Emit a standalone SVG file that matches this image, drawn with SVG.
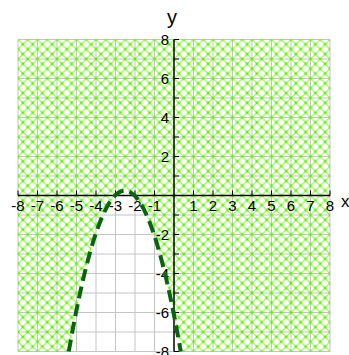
<svg xmlns="http://www.w3.org/2000/svg" width="349" height="355" viewBox="0 0 349 355">
<defs>
<pattern id="hatch" patternUnits="userSpaceOnUse" x="18" y="39.5" width="9.75" height="9.75">
<path d="M0,0 L9.75,9.75 M9.75,0 L0,9.75" stroke="#8ef545" stroke-width="1.1" fill="none"/>
<circle cx="0" cy="0" r="1.4" fill="#5cf000"/>
<circle cx="9.75" cy="0" r="1.4" fill="#5cf000"/>
<circle cx="0" cy="9.75" r="1.4" fill="#5cf000"/>
<circle cx="9.75" cy="9.75" r="1.4" fill="#5cf000"/>
<circle cx="4.875" cy="4.875" r="1.4" fill="#5cf000"/>
</pattern>
</defs>
<style>
.grid line{stroke:#c4c4c4;stroke-width:1}
.axis{stroke:#000;stroke-width:1.5}
.tick{stroke:#000;stroke-width:1}
.lbl{font-family:"Liberation Sans",Arial,sans-serif;font-size:15px;fill:#000}
.xl{text-anchor:middle}
.yl{text-anchor:end}
</style>
<rect x="0" y="0" width="349" height="355" fill="#fff"/>
<g id="grid" class="grid">
<line x1="18" y1="39.5" x2="18" y2="351.5"/><line x1="37.5" y1="39.5" x2="37.5" y2="351.5"/><line x1="57" y1="39.5" x2="57" y2="351.5"/><line x1="76.5" y1="39.5" x2="76.5" y2="351.5"/><line x1="96" y1="39.5" x2="96" y2="351.5"/><line x1="115.5" y1="39.5" x2="115.5" y2="351.5"/><line x1="135" y1="39.5" x2="135" y2="351.5"/><line x1="154.5" y1="39.5" x2="154.5" y2="351.5"/><line x1="193.5" y1="39.5" x2="193.5" y2="351.5"/><line x1="213" y1="39.5" x2="213" y2="351.5"/><line x1="232.5" y1="39.5" x2="232.5" y2="351.5"/><line x1="252" y1="39.5" x2="252" y2="351.5"/><line x1="271.5" y1="39.5" x2="271.5" y2="351.5"/><line x1="291" y1="39.5" x2="291" y2="351.5"/><line x1="310.5" y1="39.5" x2="310.5" y2="351.5"/><line x1="330" y1="39.5" x2="330" y2="351.5"/>
<line x1="18" y1="39.5" x2="330" y2="39.5"/><line x1="18" y1="59" x2="330" y2="59"/><line x1="18" y1="78.5" x2="330" y2="78.5"/><line x1="18" y1="98" x2="330" y2="98"/><line x1="18" y1="117.5" x2="330" y2="117.5"/><line x1="18" y1="137" x2="330" y2="137"/><line x1="18" y1="156.5" x2="330" y2="156.5"/><line x1="18" y1="176" x2="330" y2="176"/><line x1="18" y1="215" x2="330" y2="215"/><line x1="18" y1="234.5" x2="330" y2="234.5"/><line x1="18" y1="254" x2="330" y2="254"/><line x1="18" y1="273.5" x2="330" y2="273.5"/><line x1="18" y1="293" x2="330" y2="293"/><line x1="18" y1="312.5" x2="330" y2="312.5"/><line x1="18" y1="332" x2="330" y2="332"/><line x1="18" y1="351.5" x2="330" y2="351.5"/>
</g>
<path id="shade" fill="url(#hatch)" fill-rule="evenodd" d="M18,39.5 H330 V351.5 H18 Z M68.75,351.5 Q124.75,29.75 180.75,351.5 Z"/>
<g id="axes">
<line class="axis" x1="18" y1="195.5" x2="330" y2="195.5"/>
<line class="axis" x1="174" y1="39.5" x2="174" y2="351.5"/>
<path class="tick" d="M18,195.5v-5M37.5,195.5v-5M57,195.5v-5M76.5,195.5v-5M96,195.5v-5M115.5,195.5v-5M135,195.5v-5M154.5,195.5v-5M193.5,195.5v-5M213,195.5v-5M232.5,195.5v-5M252,195.5v-5M271.5,195.5v-5M291,195.5v-5M310.5,195.5v-5M330,195.5v-5"/>
<path class="tick" d="M174,39.5h5M174,59h5M174,78.5h5M174,98h5M174,117.5h5M174,137h5M174,156.5h5M174,176h5M174,215h5M174,234.5h5M174,254h5M174,273.5h5M174,293h5M174,312.5h5M174,332h5M174,351.5h5"/>
</g>
<g id="xlabels" class="lbl xl">
<text x="18" y="211">-8</text><text x="37.5" y="211">-7</text><text x="57" y="211">-6</text><text x="76.5" y="211">-5</text><text x="96" y="211">-4</text><text x="115.5" y="211">-3</text><text x="135" y="211">-2</text><text x="154.5" y="211">-1</text><text x="193.5" y="211">1</text><text x="213" y="211">2</text><text x="232.5" y="211">3</text><text x="252" y="211">4</text><text x="271.5" y="211">5</text><text x="291" y="211">6</text><text x="310.5" y="211">7</text><text x="330" y="211">8</text>
</g>
<g id="ylabels" class="lbl yl">
<text x="169" y="45">8</text><text x="169" y="84">6</text><text x="169" y="123">4</text><text x="169" y="162">2</text><text x="169" y="240">-2</text><text x="169" y="279">-4</text><text x="169" y="318">-6</text><text x="169" y="357">-8</text>
</g>
<text x="167" y="24" style="font-family:'Liberation Sans',Arial,sans-serif;font-size:20px">y</text>
<text x="341" y="207" style="font-family:'Liberation Sans',Arial,sans-serif;font-size:17px">x</text>
<path id="curve" d="M68.75,351.5 Q124.75,29.75 180.75,351.5" fill="none" stroke="#0a640f" stroke-width="4" stroke-dasharray="12 6"/>
</svg>
